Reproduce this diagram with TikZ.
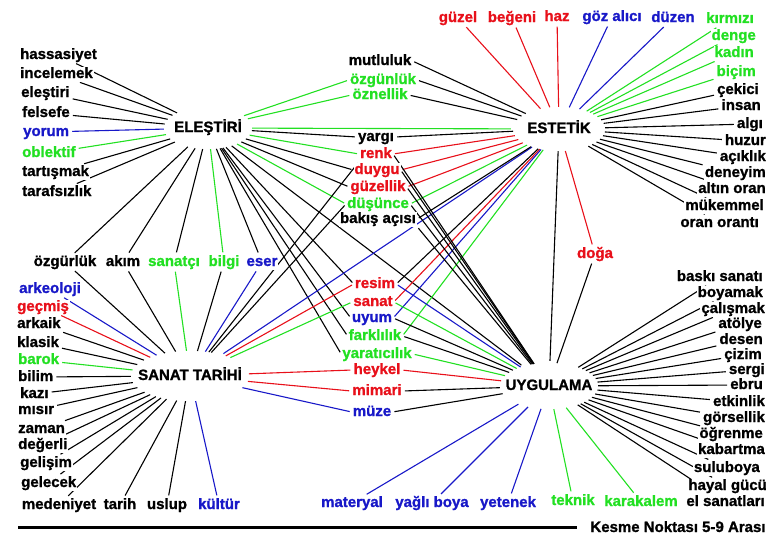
\documentclass[tikz,border=0pt]{standalone}
\usepackage{fontspec}
\setmainfont{Liberation Sans}[BoldFeatures={FakeBold=1.2}]
\usepackage{tikz}
\usetikzlibrary{shapes.geometric,backgrounds}
\definecolor{MapRed}{HTML}{E8101A}
\definecolor{MapGreen}{HTML}{22E022}
\definecolor{MapBlue}{HTML}{1818C8}
\tikzset{
  word/.style={font=\bfseries\fontsize{15}{16}\selectfont,inner sep=1pt,text height=10.5pt,text depth=2.5pt,fill=white},
  redword/.style={word,text=MapRed},
  greenword/.style={word,text=MapGreen},
  blueword/.style={word,text=MapBlue},
  hub/.style={ellipse,inner sep=0pt},
  link/.style={line width=1.1pt,shorten >=2pt},
}

\begin{document}
\begin{tikzpicture}[x=1pt,y=-1pt]
\useasboundingbox (0,0) rectangle (777,538);

% Hubs
\node[hub,minimum width=88pt,minimum height=42pt,label={[word]center:ELEŞTİRİ}] (elestiri) at (208,128) {};
\node[hub,minimum width=92pt,minimum height=44pt,label={[word]center:ESTETİK}] (estetik) at (559,129) {};
\node[hub,minimum width=118pt,minimum height=50pt,label={[word]center:SANAT TARİHİ}] (sanattarihi) at (190,376) {};
\node[hub,minimum width=98pt,minimum height=46pt,label={[word]center:UYGULAMA}] (uygulama) at (549,386) {};

% Elestiri words
\node[word,anchor=west] (hassasiyet) at (19,55) {hassasiyet};
\node[word,anchor=west] (incelemek) at (19,74) {incelemek};
\node[word,anchor=west] (elestiriword) at (20,93) {eleştiri};
\node[word,anchor=west] (felsefe) at (21,113) {felsefe};
\node[blueword,anchor=west] (yorum) at (22,132) {yorum};
\node[greenword,anchor=west] (oblektif) at (21,153) {oblektif};
\node[word,anchor=west] (tartismak) at (21,172) {tartışmak};
\node[word,anchor=west] (tarafsizlik) at (21,192) {tarafsızlık};

% Estetik words, top row
\node[redword] (guzel) at (458,18) {güzel};
\node[redword] (begeni) at (512,18) {beğeni};
\node[redword] (haz) at (557,17) {haz};
\node[blueword] (gozalici) at (612,17) {göz alıcı};
\node[blueword] (duzen) at (673,18) {düzen};

% Estetik words, right column
\node[greenword,anchor=east] (kirmizi) at (755,19) {kırmızı};
\node[greenword,anchor=east] (denge) at (757,36) {denge};
\node[greenword,anchor=east] (kadin) at (755,53) {kadın};
\node[greenword,anchor=east] (bicim) at (757,72) {biçim};
\node[word,anchor=east] (cekici) at (760,90) {çekici};
\node[word,anchor=east] (insan) at (762,106) {insan};
\node[word,anchor=east] (algi) at (764,124) {algı};
\node[word,anchor=east] (huzur) at (767,141) {huzur};
\node[word,anchor=east] (aciklik) at (767,157) {açıklık};
\node[word,anchor=east] (deneyim) at (767,173) {deneyim};
\node[word,anchor=east] (altinoran) at (767,189) {altın oran};
\node[word,anchor=east] (mukemmel) at (765,206) {mükemmel};
\node[word,anchor=east] (oranoranti) at (760,223) {oran orantı};

% Middle, upper
\node[word] (mutluluk) at (380,61) {mutluluk};
\node[greenword] (ozgunluk) at (383,80) {özgünlük};
\node[greenword] (oznellik) at (380,95) {öznellik};
\node[word] (yargi) at (376,137) {yargı};
\node[redword] (renk) at (376,154) {renk};
\node[redword] (duygu) at (377,170) {duygu};
\node[redword] (guzellik) at (378,187) {güzellik};
\node[greenword] (dusunce) at (378,204) {düşünce};
\node[word] (bakisacisi) at (378,219) {bakış açısı};
\node[redword] (doga) at (595,254) {doğa};

% Middle, lower
\node[redword] (resim) at (375,284) {resim};
\node[redword] (sanat) at (373,302) {sanat};
\node[blueword] (uyum) at (372,318) {uyum};
\node[greenword] (farklilik) at (375,336) {farklılık};
\node[greenword] (yaraticilik) at (377,354) {yaratıcılık};
\node[redword] (heykel) at (377,370) {heykel};
\node[redword] (mimari) at (377,391) {mimari};
\node[blueword] (muze) at (372,412) {müze};

% Uygulama words, right column
\node[word,anchor=east] (baskisanati) at (764,277) {baskı sanatı};
\node[word,anchor=east] (boyamak) at (764,293) {boyamak};
\node[word,anchor=east] (calismak) at (766,309) {çalışmak};
\node[word,anchor=east] (atolye) at (763,324) {atölye};
\node[word,anchor=east] (desen) at (764,340) {desen};
\node[word,anchor=east] (cizim) at (763,355) {çizim};
\node[word,anchor=east] (sergi) at (766,370) {sergi};
\node[word,anchor=east] (ebru) at (764,385) {ebru};
\node[word,anchor=east] (etkinlik) at (766,402) {etkinlik};
\node[word,anchor=east] (gorsellik) at (766,418) {görsellik};
\node[word,anchor=east] (ogrenme) at (764,434) {öğrenme};
\node[word,anchor=east] (kabartma) at (766,450) {kabartma};
\node[word,anchor=east] (suluboya) at (761,468) {suluboya};
\node[word,anchor=east] (hayalgucu) at (768,486) {hayal gücü};
\node[word,anchor=east] (elsanatlari) at (766,502) {el sanatları};

% Uygulama words, bottom row
\node[blueword] (materyal) at (352,503) {materyal};
\node[blueword] (yagliboya) at (432,503) {yağlı boya};
\node[blueword] (yetenek) at (508,503) {yetenek};
\node[greenword] (teknik) at (573,501) {teknik};
\node[greenword] (karakalem) at (641,502) {karakalem};

% Sanat tarihi words, top row
\node[word] (ozgurluk) at (65,262) {özgürlük};
\node[word] (akim) at (123,262) {akım};
\node[greenword] (sanatci) at (174,262) {sanatçı};
\node[greenword] (bilgi) at (224,262) {bilgi};
\node[blueword] (eser) at (262,262) {eser};

% Sanat tarihi words, left column
\node[blueword,anchor=west] (arkeoloji) at (18,289) {arkeoloji};
\node[redword,anchor=west] (gecmis) at (16,307) {geçmiş};
\node[word,anchor=west] (arkaik) at (16,324) {arkaik};
\node[word,anchor=west] (klasik) at (16,343) {klasik};
\node[greenword,anchor=west] (barok) at (17,360) {barok};
\node[word,anchor=west] (bilim) at (17,377) {bilim};
\node[word,anchor=west] (kazi) at (19,394) {kazı};
\node[word,anchor=west] (misir) at (17,410) {mısır};
\node[word,anchor=west] (zaman) at (17,429) {zaman};
\node[word,anchor=west] (degerli) at (17,445) {değerli};
\node[word,anchor=west] (gelisim) at (19,463) {gelişim};
\node[word,anchor=west] (gelecek) at (20,483) {gelecek};

% Sanat tarihi words, bottom row
\node[word] (medeniyet) at (59,505) {medeniyet};
\node[word] (tarih) at (120,505) {tarih};
\node[word] (uslup) at (167,505) {uslup};
\node[blueword] (kultur) at (219,505) {kültür};

% Footer
\coordinate (rulestart) at (18,527);
\coordinate (ruleend) at (577,527);
\draw[line width=3pt] (rulestart) -- (ruleend);
\node[word] (kesme) at (678,528) {Kesme Noktası 5-9 Arası};

% Connectors
\begin{scope}[on background layer]
  % Elestiri
  \foreach \w in {hassasiyet,incelemek,elestiriword,felsefe,tartismak,tarafsizlik,ozgurluk,akim,sanatci,eser,yargi.west,duygu.west,guzellik.west,resim.west,uyum.west,farklilik.west,yaraticilik.west,uygulama}
    \draw[link] (elestiri) -- (\w);
  \draw[link,MapBlue] (elestiri) -- (yorum);
  \foreach \w in {oblektif,bilgi,ozgunluk.west,oznellik.west,estetik,renk.west,dusunce.west}
    \draw[link,MapGreen] (elestiri) -- (\w);

  % Estetik
  \foreach \w in {guzel,begeni,haz,renk.east,duygu.east,guzellik.east,sanat.east,doga}
    \draw[link,MapRed] (estetik) -- (\w);
  \foreach \w in {gozalici,duzen,uyum.east,sanattarihi}
    \draw[link,MapBlue] (estetik) -- (\w);
  \foreach \w in {kirmizi,denge,kadin,bicim,dusunce.east,farklilik.east}
    \draw[link,MapGreen] (estetik) -- (\w);
  \foreach \w in {cekici,insan,algi,huzur,aciklik,deneyim,altinoran,mukemmel,oranoranti,mutluluk.east,ozgunluk.east,oznellik.east,yargi.east,resim.east,bakisacisi.east,uygulama}
    \draw[link] (estetik) -- (\w);

  % Sanat tarihi
  \foreach \w in {ozgurluk,akim,bilgi,arkaik,klasik,bilim,kazi,misir,zaman,degerli,gelisim,gelecek,medeniyet,tarih,uslup,renk.south west,dusunce.west}
    \draw[link] (sanattarihi) -- (\w);
  \foreach \w in {arkeoloji,eser,kultur,muze.west}
    \draw[link,MapBlue] (sanattarihi) -- (\w);
  \foreach \w in {gecmis,resim.west,heykel.west,mimari.west}
    \draw[link,MapRed] (sanattarihi) -- (\w);
  \foreach \w in {barok,sanatci,sanat.west}
    \draw[link,MapGreen] (sanattarihi) -- (\w);

  % Uygulama
  \foreach \w in {baskisanati,boyamak,calismak,atolye,desen,cizim,sergi,ebru,etkinlik,gorsellik,ogrenme,kabartma,suluboya,hayalgucu,elsanatlari,doga,uyum.east,farklilik.east,mimari.east,muze.east,renk.east,duygu.east,guzellik.east,dusunce.east,bakisacisi.south east}
    \draw[link] (uygulama) -- (\w);
  \foreach \w in {materyal,yagliboya,yetenek,resim.east}
    \draw[link,MapBlue] (uygulama) -- (\w);
  \foreach \w in {teknik,karakalem,sanat.east,yaraticilik.east}
    \draw[link,MapGreen] (uygulama) -- (\w);
  \draw[link,MapRed] (uygulama) -- (heykel.east);
\end{scope}
\end{tikzpicture}
\end{document}
